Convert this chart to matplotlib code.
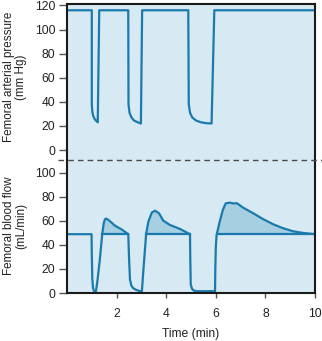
import matplotlib
matplotlib.use("Agg")
import matplotlib.pyplot as plt
from matplotlib.lines import Line2D

plt.rcParams['font.family'] = ['Liberation Sans', 'DejaVu Sans']

# femoral arterial pressure (mm Hg) vs time (min)
p_time = [0, 1.0, 1.0, 1.02, 1.06, 1.12, 1.19, 1.24, 1.30,
          2.47, 2.48, 2.52, 2.60, 2.70, 2.85, 2.98, 3.03,
          4.89, 4.91, 4.96, 5.05, 5.20, 5.40, 5.60, 5.83, 5.94, 10]
p_vals = [116, 116, 38, 32, 28, 25.5, 24, 23, 116,
          116, 38, 31, 27, 24.5, 23, 22, 116,
          116, 38, 31, 27, 24.5, 23, 22.3, 22, 116, 116]

# femoral blood flow (mL/min) vs time (min)
f_time = [0, 0.99, 1.0, 1.02, 1.05, 1.10, 1.16, 1.22, 1.32, 1.42, 1.48, 1.53, 1.58,
          1.66, 1.75, 1.94, 2.20, 2.47,
          2.50, 2.54, 2.60, 2.67, 2.80, 2.95, 3.02, 3.08, 3.19, 3.28, 3.42, 3.55,
          3.71, 3.88, 4.15, 4.56, 4.96,
          4.97, 4.99, 5.04, 5.10, 5.23, 5.60, 5.97, 5.98, 6.00, 6.03, 6.14, 6.28,
          6.40, 6.57, 6.70, 6.85, 7.11, 7.51, 7.92, 8.32, 8.72, 9.12, 9.53, 10]
f_vals = [49, 49, 32, 12, 4, 1, 0.5, 9, 27, 49, 58, 61.5, 62,
          61, 59.5, 56, 53, 49,
          30, 11, 6, 4, 2.5, 1.5, 1.5, 19, 49, 59.4, 67, 68.6,
          66.4, 60.3, 56.7, 53.3, 49,
          30, 7, 3.5, 2.2, 1.5, 1.5, 1.5, 20, 38, 48, 58, 69,
          74.7, 75.3, 74.6, 74.8, 71, 66.4, 61.4, 57.2, 53.9, 51.4, 50, 49]

f_base = 49
# stretches where the flow rises above the resting level
hump_start = [1.42, 3.19, 6.03]
hump_end = [2.47, 4.96, 10]

line_col = '#1b7aad'
bg_col = '#d7e9f2'
fill_col = '#a6cfe2'

fig = plt.figure(figsize=(3.22, 3.41), dpi=100)
ax1 = fig.add_axes([67/322, 1-160/341, 248/322, 156/341])
ax2 = fig.add_axes([67/322, 1-293/341, 248/322, 133/341])

for ax in (ax1, ax2):
    ax.set_facecolor(bg_col)
    ax.set_xlim(0, 10)
    for s in ax.spines.values():
        s.set_linewidth(1.5)
        s.set_color('#1a1a1a')
    ax.tick_params(axis='y', direction='out', length=5.5, width=1, color='#555555',
                   labelsize=8.7, pad=3, labelcolor='#222222')
ax1.spines['bottom'].set_visible(False)
ax2.spines['top'].set_visible(False)

ax1.plot(p_time, p_vals, color=line_col, lw=1.6, solid_joinstyle='round')
ax1.set_ylim(-8.3, 121.2)
ax1.set_yticks([0, 20, 40, 60, 80, 100, 120])
ax1.set_xticks([])

ax2.fill_between(f_time, f_vals, f_base, where=[v >= f_base for v in f_vals],
                 color=fill_col, lw=0, interpolate=True)
for a, b in zip(hump_start, hump_end):
    ax2.plot([a, b], [f_base, f_base], color=line_col, lw=1.6)
ax2.plot(f_time, f_vals, color=line_col, lw=1.6, solid_joinstyle='round')
ax2.set_ylim(0, 110.8)
ax2.set_yticks([0, 20, 40, 60, 80, 100])
ax2.set_xticks([2, 4, 6, 8, 10])
ax2.tick_params(axis='x', direction='out', length=3.6, width=1, color='#555555',
                labelsize=8.7, pad=7, labelcolor='#222222')

fig.add_artist(Line2D([58/322, 1.0], [1-160/341, 1-160/341], color='#4a4a4a',
                      lw=1, linestyle=(0, (4, 3))))

fig.text(15/322, 1-77/341, 'Femoral arterial pressure\n(mm Hg)', rotation=90,
         ha='center', va='center', fontsize=8.4, linespacing=1.05, color='#222222')
fig.text(15/322, 1-226/341, 'Femoral blood flow\n(mL/min)', rotation=90,
         ha='center', va='center', fontsize=8.4, linespacing=1.05, color='#222222')
fig.text(191/322, 1-334/341, 'Time (min)', ha='center', va='center',
         fontsize=8.7, color='#222222')

fig.savefig('out.png', dpi=100)
